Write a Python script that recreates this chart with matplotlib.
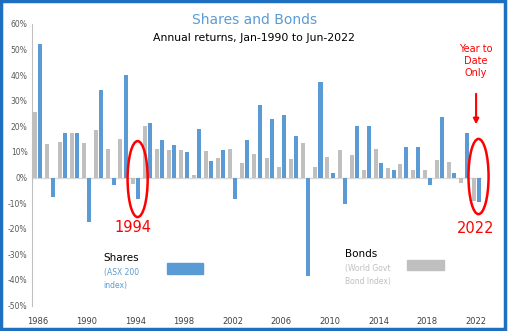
import matplotlib.pyplot as plt
from matplotlib.patches import Ellipse, Rectangle
import numpy as np

# Data (annual returns, %)
years = list(range(1986, 2023))
bonds = [25.8, 13.2, 13.8, 17.6, 13.4, 18.5, 11.1, 15.0, -2.6, 20.1,
         11.1, 10.7, 10.7, 0.9, 10.3, 7.6, 11.1, 5.6, 9.1, 7.6,
         4.0, 7.2, 13.4, 4.0, 7.9, 10.7, 8.7, 2.9, 11.1, 3.6,
         5.2, 2.9, 2.9, 6.8, 6.0, -2.1, -9.1]
shares = [52.0, -7.6, 17.6, 17.6, -17.4, 34.2, -3.0, 40.1, -8.5, 21.3,
          14.6, 12.7, 9.8, 18.9, 6.4, 10.7, -8.4, 14.6, 28.3, 22.9,
          24.4, 16.2, -38.6, 37.4, 1.7, -10.3, 20.1, 20.1, 5.6, 2.9,
          11.9, 11.9, -2.9, 23.6, 1.7, 17.3, -9.5]
tick_years = list(range(1986, 2023, 4))
yticks = list(range(-50, 61, 10))

BLUE = '#5B9BD5'
GREY = '#BFBFBF'
RED = '#FF0000'

fig = plt.figure(figsize=(5.09, 3.31), dpi=100)
ax = fig.add_axes([0.0623, 0.077, 0.885, 0.8505])

x = np.array(years)
w = 0.33
ax.bar(x - 0.21, bonds, w, color=GREY, zorder=2)
ax.bar(x + 0.22, shares, w, color=BLUE, zorder=2)

ax.set_xlim(1985.5, 2022.5)
ax.set_ylim(-50, 60)
ax.set_yticks(yticks)
ax.set_yticklabels([f'{v}%' for v in yticks], fontsize=5.5, color='#595959')
ax.set_xticks(tick_years)
ax.set_xticklabels([str(t) for t in tick_years], fontsize=6, color='#404040')
ax.tick_params(axis='both', length=0)
ax.tick_params(axis='y', pad=3)
ax.tick_params(axis='x', pad=8)

for s in ['top', 'right', 'bottom']:
    ax.spines[s].set_visible(False)
ax.spines['left'].set_color('#BFBFBF')
ax.axhline(0, color='#D9D9D9', lw=1, zorder=1)

# titles
fig.text(0.5, 1 - 20 / 331, 'Shares and Bonds', ha='center', va='center',
         fontsize=10, color=BLUE)
fig.text(0.498, 1 - 38 / 331, 'Annual returns, Jan-1990 to Jun-2022', ha='center',
         va='center', fontsize=7.8, color='black')

# highlight ellipses
ax.add_patch(Ellipse((1994.2, -0.6), 1.65, 29.7, fill=False, edgecolor=RED,
                     lw=1.8, zorder=3, clip_on=False))
ax.add_patch(Ellipse((2022.2, 0.4), 1.65, 29.4, fill=False, edgecolor=RED,
                     lw=1.8, zorder=3, clip_on=False))
ax.text(1993.8, -19.6, '1994', color=RED, fontsize=10.5, ha='center', va='center')
ax.text(2022.0, -20.1, '2022', color=RED, fontsize=10.5, ha='center', va='center')
ax.text(2022.0, 45.5, 'Year to\nDate\nOnly', color=RED, fontsize=7, ha='center',
        va='center', linespacing=1.25, clip_on=False)
ax.annotate('', xy=(2022.0, 19.7), xytext=(2022.0, 33.8),
            arrowprops=dict(arrowstyle='-|>', color=RED, lw=1.5,
                            mutation_scale=8), annotation_clip=False)

# legend-like labels
ax.text(1991.4, -31.4, 'Shares', color='black', fontsize=7.5, va='center')
ax.text(1991.4, -39.5, '(ASX 200\nindex)', color=BLUE, fontsize=5.5,
        va='center', linespacing=1.6)
ax.add_patch(Rectangle((1996.6, -37.7), 3.0, 4.3, color=BLUE, zorder=2))
ax.text(2011.2, -29.9, 'Bonds', color='black', fontsize=7.5, va='center')
ax.text(2011.2, -38.1, '(World Govt\nBond Index)', color=GREY, fontsize=5.5,
        va='center', linespacing=1.6)
ax.add_patch(Rectangle((2016.3, -36.1), 3.1, 3.9, color=GREY, zorder=2))

# outer frame
fig.patches.append(Rectangle((0.002, 0.005), 0.991, 0.992, transform=fig.transFigure,
                             fill=False, edgecolor='#1F6FC0', lw=2.5))

fig.savefig('out.png', dpi=100)
